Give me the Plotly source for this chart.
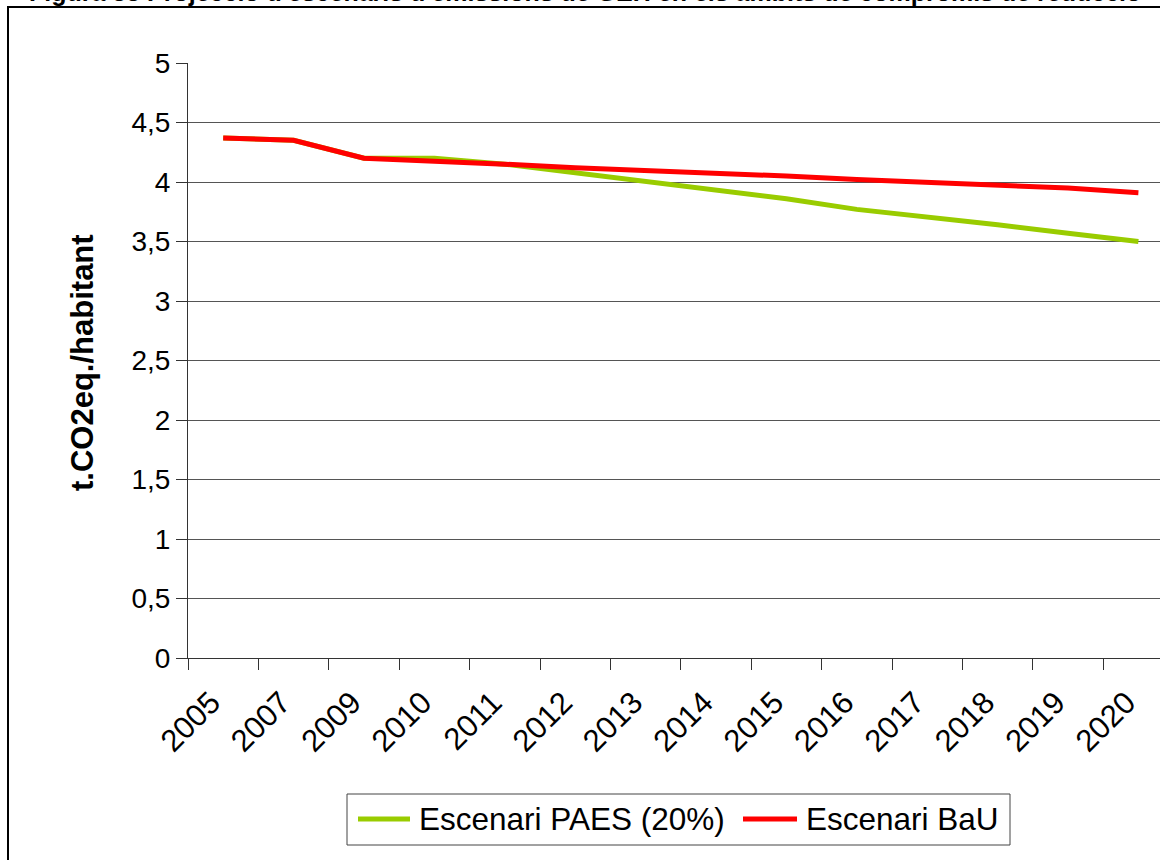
import plotly.graph_objects as go

# Emissions per inhabitant (t CO2eq) under the two scenarios
years = ["2005", "2007", "2009", "2010", "2011", "2012", "2013",
         "2014", "2015", "2016", "2017", "2018", "2019", "2020"]
paes = [4.37, 4.35, 4.20, 4.20, 4.15, 4.08, 4.01,
        3.93, 3.86, 3.77, 3.71, 3.64, 3.57, 3.50]
bau = [4.37, 4.35, 4.20, 4.18, 4.15, 4.12, 4.10,
       4.07, 4.05, 4.02, 4.00, 3.97, 3.95, 3.91]
series_names = ["Escenari PAES (20%)", "Escenari BaU"]
series_colors = ["#99CC00", "#FF0000"]
y_title = "t.CO2eq./habitant"
fig_title = "Figura 33 Projecció d'escenaris d'emissions de GEH en els àmbits de compromís de reducció"

W, H = 1160, 860
ML, MT, MB = 188, 63, 202
PW = W - ML
PH = H - MT - MB
FONT = "Liberation Sans, Arial, sans-serif"


def px(x):
    return (x - ML) / PW


def py(y):
    return (H - MB - y) / PH


fig = go.Figure()
for name, vals, col in zip(series_names, [paes, bau], series_colors):
    fig.add_trace(go.Scatter(
        x=years, y=vals, name=name, mode="lines",
        line=dict(color=col, width=5), showlegend=False,
    ))

cat_w = 70.4
fig.update_layout(
    width=W, height=H, autosize=False,
    margin=dict(l=ML, r=0, t=MT, b=MB),
    paper_bgcolor="white", plot_bgcolor="white",
    separators=",.",
    font=dict(family=FONT, color="black"),
    xaxis=dict(
        type="category", range=[-0.5, -0.5 + PW / cat_w],
        tickson="boundaries", ticks="outside", ticklen=11,
        tickcolor="#333", showline=True, linecolor="#333", linewidth=1,
        showgrid=False, tickangle=-45,
        ticklabelstandoff=13, ticklabelshift=-12,
        tickfont=dict(size=31, family=FONT, color="black"),
    ),
    yaxis=dict(
        range=[0, 5], dtick=0.5, tick0=0, ticks="outside", ticklen=11,
        tickcolor="#333", showline=True, linecolor="#333", linewidth=1,
        showgrid=True, gridcolor="#555", gridwidth=1, zeroline=False,
        tickfont=dict(size=28, family=FONT, color="black"),
    ),
)

# Y axis title
fig.add_annotation(
    xref="paper", yref="paper", x=px(82), y=py(363),
    text="<b>" + y_title + "</b>", textangle=-90, showarrow=False,
    xanchor="center", yanchor="middle",
    font=dict(size=31, family=FONT, color="black"),
)

# Figure caption above the frame
fig.add_annotation(
    xref="paper", yref="paper", x=px(585), y=py(8),
    text="<b>" + fig_title + "</b>", showarrow=False,
    xanchor="center", yanchor="bottom",
    font=dict(size=25, family=FONT, color="black"),
)

# Outer frame
fig.add_shape(type="rect", xref="paper", yref="paper",
              x0=px(8), y0=py(7), x1=px(1220), y1=py(920),
              line=dict(color="black", width=2))

# Legend box
fig.add_shape(type="rect", xref="paper", yref="paper",
              x0=px(347), y0=py(794), x1=px(1010), y1=py(845),
              line=dict(color="#444", width=1), fillcolor="white")
legend_items = [(358, 410, 417), (743, 797, 804)]
for (l0, l1, tx), name, col in zip(legend_items, series_names, series_colors):
    fig.add_shape(type="line", xref="paper", yref="paper",
                  x0=px(l0), x1=px(l1), y0=py(819), y1=py(819),
                  line=dict(color=col, width=5))
    fig.add_annotation(
        xref="paper", yref="paper", x=px(tx), y=py(819),
        text=name, showarrow=False, xanchor="left", yanchor="middle",
        font=dict(size=31.5, family=FONT, color="black"),
    )

fig.write_html("out.html")
